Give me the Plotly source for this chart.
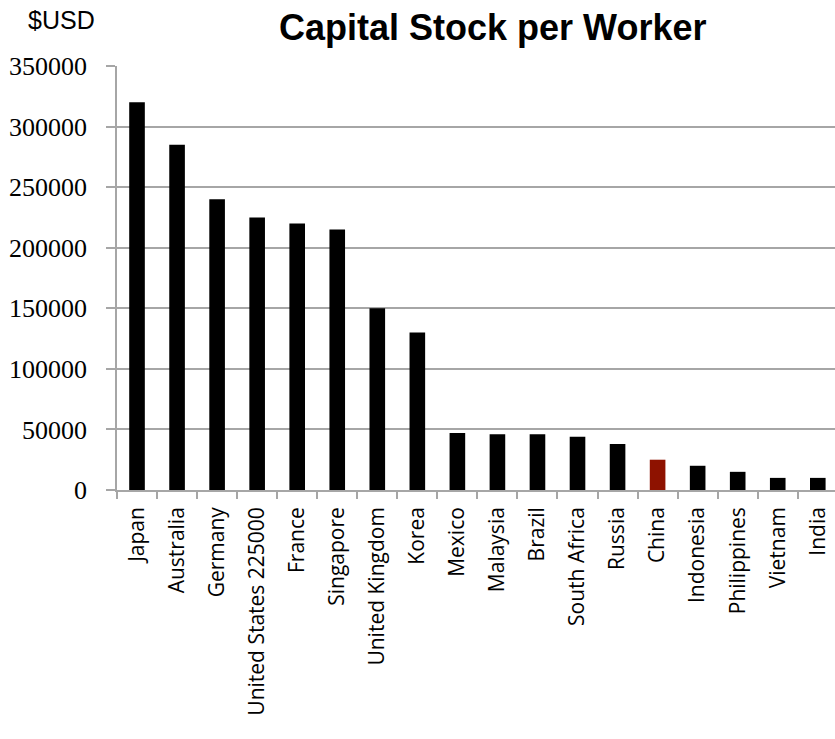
import plotly.graph_objects as go

countries = [
    "Japan", "Australia", "Germany", "United States 225000", "France",
    "Singapore", "United Kingdom", "Korea", "Mexico", "Malaysia", "Brazil",
    "South Africa", "Russia", "China", "Indonesia", "Philippines", "Vietnam",
    "India",
]
capital_per_worker = [
    320000, 285000, 240000, 225000, 220000, 215000, 150000, 130000,
    47000, 46000, 46000, 44000, 38000, 25000, 20000, 15000, 10000, 10000,
]
y_ticks = [0, 50000, 100000, 150000, 200000, 250000, 300000, 350000]

highlight = "China"
bar_colors = ["#8E1200" if c == highlight else "#000000" for c in countries]

GRID = "#A6A6A6"

fig = go.Figure(
    go.Bar(
        x=countries,
        y=capital_per_worker,
        marker=dict(color=bar_colors, line=dict(width=0)),
        width=0.39,
    )
)

fig.update_layout(
    width=835,
    height=739,
    margin=dict(l=117, r=0, t=66, b=249),
    paper_bgcolor="white",
    plot_bgcolor="white",
    showlegend=False,
    bargap=0.6,
)

fig.update_xaxes(
    type="category",
    range=[-0.5, 17.43],
    showgrid=False,
    showline=True,
    linecolor=GRID,
    linewidth=1.5,
    ticks="outside",
    tickson="boundaries",
    ticklen=7,
    tickwidth=1.5,
    tickcolor=GRID,
    tickangle=-90,
    ticklabelstandoff=7,
    tickfont=dict(family="Open Sans", size=21, color="#000000"),
)

fig.update_yaxes(
    range=[0, 350000],
    tickvals=y_ticks,
    ticktext=[str(v) for v in y_ticks],
    showgrid=True,
    gridcolor=GRID,
    gridwidth=1.5,
    zeroline=False,
    showline=True,
    linecolor=GRID,
    linewidth=1.5,
    ticks="outside",
    ticklen=9,
    tickwidth=1.5,
    tickcolor=GRID,
    ticklabelstandoff=14,
    tickfont=dict(family="Times New Roman, Liberation Serif, serif", size=26, color="#000000"),
)

fig.add_annotation(
    text="<b>Capital Stock per Worker</b>",
    xref="paper", yref="paper",
    x=(492 - 117) / 718, y=1,
    xanchor="center", yanchor="bottom",
    yshift=16,
    showarrow=False,
    font=dict(family="Liberation Sans", size=36, color="#000000"),
)

fig.add_annotation(
    text="$USD",
    xref="paper", yref="paper",
    x=0, y=1,
    xanchor="right", yanchor="bottom",
    xshift=-20, yshift=30,
    showarrow=False,
    font=dict(family="Liberation Sans", size=25, color="#000000"),
)

fig.write_html("out.html")
